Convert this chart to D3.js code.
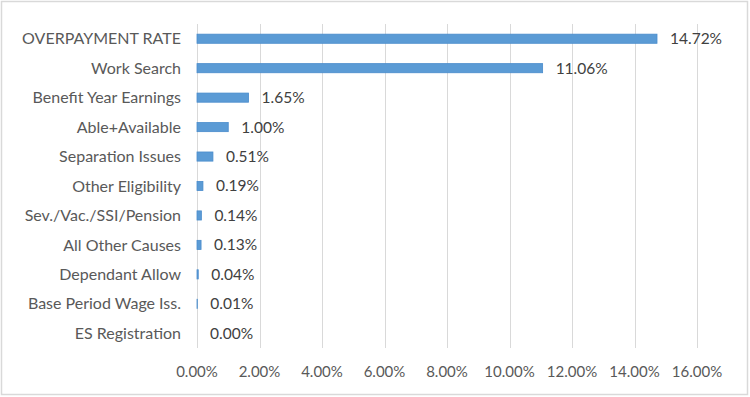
<!DOCTYPE html>
<html><head><meta charset="utf-8">
<script src="https://cdn.jsdelivr.net/npm/d3@7/dist/d3.min.js"></script>
<style>body{margin:0;background:#fff}text{font-family:Lato,"Open Sans",sans-serif}</style>
</head><body><svg id="c" width="750" height="397"></svg>
<script>
const categories = ["OVERPAYMENT RATE","Work Search","Benefit Year Earnings","Able+Available","Separation Issues","Other Eligibility","Sev./Vac./SSI/Pension","All Other Causes","Dependant Allow","Base Period Wage Iss.","ES Registration"];
const values = [14.72,11.06,1.65,1.00,0.51,0.19,0.14,0.13,0.04,0.01,0.00];
const tickValues = [0,2,4,6,8,10,12,14,16];

const svg = d3.select("#c");
svg.append("rect").attr("x",1.5).attr("y",1.5).attr("width",746).attr("height",393)
  .attr("fill","#fff").attr("stroke","#d9d9d9").attr("stroke-width",1.5);

const x = d3.scaleLinear().domain([0,16]).range([197,697]);
const y = d3.scaleBand().domain(categories).range([24,348]).paddingInner(0.69).paddingOuter(0.345);

const g = svg.append("g");
g.selectAll("line.grid").data(tickValues).join("line").attr("class","grid")
  .attr("x1",d=>Math.round(x(d))+0.5).attr("x2",d=>Math.round(x(d))+0.5)
  .attr("y1",24).attr("y2",348).attr("stroke","#d9d9d9").attr("stroke-width",1);

g.selectAll("rect.bar").data(values).join("rect").attr("class","bar")
  .attr("x",x(0)).attr("y",(d,i)=>y(categories[i]))
  .attr("width",d=>Math.max(0,x(d)-x(0))).attr("height",y.bandwidth())
  .attr("fill","#5b9bd5").attr("stroke",d=>d>0?"#4a8ccc":"none").attr("stroke-width",0.8);

g.selectAll("text.val").data(values).join("text").attr("class","val")
  .attr("x",d=>x(d)+13).attr("y",(d,i)=>y(categories[i])+y.bandwidth()/2)
  .attr("dy","0.35em").attr("font-size",15.5).attr("fill","#404040")
  .text(d=>d.toFixed(2)+"%");

g.selectAll("text.cat").data(categories).join("text").attr("class","cat")
  .attr("x",181).attr("y",d=>y(d)+y.bandwidth()/2).attr("dy","0.35em")
  .attr("text-anchor","end").attr("font-size",16).attr("fill","#595959").text(d=>d);

g.selectAll("text.tick").data(tickValues).join("text").attr("class","tick")
  .attr("x",d=>x(d)).attr("y",372).attr("dy","0.35em").attr("text-anchor","middle")
  .attr("font-size",15).attr("fill","#595959").text(d=>d.toFixed(2)+"%");
</script></body></html>
